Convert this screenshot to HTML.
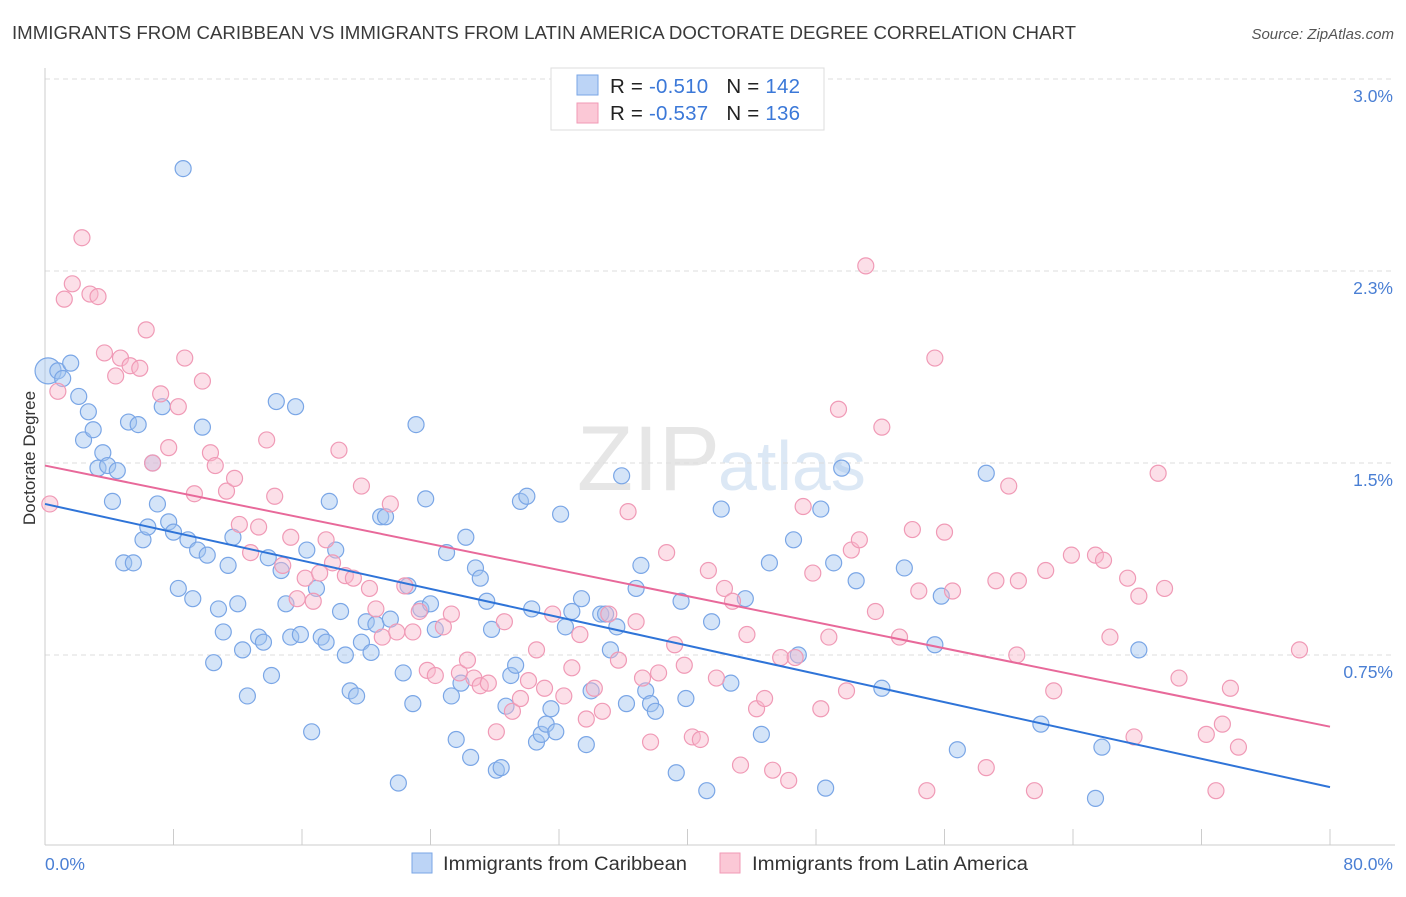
<!DOCTYPE html>
<html><head><meta charset="utf-8">
<style>
body{margin:0;background:#fff;font-family:"Liberation Sans",sans-serif;}
svg text{font-family:"Liberation Sans",sans-serif;}
</style></head>
<body>
<svg id="chart" width="1406" height="892" viewBox="0 0 1406 892">
<text x="12" y="39" font-size="18" fill="#3a3a3a" textLength="1064" lengthAdjust="spacingAndGlyphs">IMMIGRANTS FROM CARIBBEAN VS IMMIGRANTS FROM LATIN AMERICA DOCTORATE DEGREE CORRELATION CHART</text>
<text x="1394" y="39" font-size="15" fill="#555" font-style="italic" text-anchor="end">Source: ZipAtlas.com</text>
<text x="720" y="490" font-size="92" fill="#e6e6e6" text-anchor="end" font-family="Liberation Serif">ZIP</text>
<text x="718" y="490" font-size="70" fill="#dce8f5">atlas</text>
<g id="grid"></g>
<g id="axes"></g>
<g id="pts"></g>
<g id="trends"></g>
<text x="35" y="458" font-size="17" fill="#333" text-anchor="middle" transform="rotate(-90 35 458)">Doctorate Degree</text>
<text x="45" y="870" font-size="17.5" fill="#4a7fd4">0.0%</text>
<text x="1393" y="870" font-size="17.5" fill="#4a7fd4" text-anchor="end">80.0%</text>
<g>
<rect x="551" y="68" width="273" height="62" fill="#fff" stroke="#ddd"/>
<rect x="577" y="75" width="21" height="20" fill="#bcd4f6" stroke="#7aa6e6"/>
<rect x="577" y="103" width="21" height="20" fill="#fbc8d6" stroke="#f09ab6"/>
<text x="610" y="93" font-size="20.5" fill="#222" textLength="190" lengthAdjust="spacing">R = <tspan fill="#3b78d8">-0.510</tspan><tspan dx="18">N = </tspan><tspan fill="#3b78d8">142</tspan></text>
<text x="610" y="120" font-size="20.5" fill="#222" textLength="190" lengthAdjust="spacing">R = <tspan fill="#3b78d8">-0.537</tspan><tspan dx="18">N = </tspan><tspan fill="#3b78d8">136</tspan></text>
</g>
<g>
<rect x="412" y="853" width="20" height="20" fill="#bcd4f6" stroke="#7aa6e6"/>
<text x="443" y="870" font-size="19" fill="#333" textLength="244" lengthAdjust="spacingAndGlyphs">Immigrants from Caribbean</text>
<rect x="720" y="853" width="20" height="20" fill="#fbc8d6" stroke="#f09ab6"/>
<text x="752" y="870" font-size="19" fill="#333" textLength="276" lengthAdjust="spacingAndGlyphs">Immigrants from Latin America</text>
</g>
</svg>
<script>
const yTicks=[0.75,1.5,2.25,3.0];
const yTickLabels=["0.75%","1.5%","2.3%","3.0%"];
const blueX=[0.19,0.8,1.1,1.6,2.1,2.7,2.4,3.0,3.3,3.6,3.9,4.5,4.2,5.2,5.8,4.9,5.5,6.1,6.4,6.7,7.0,7.3,7.7,8.0,8.3,8.6,8.9,9.2,9.5,9.8,10.1,10.5,10.8,11.1,11.4,11.7,12.0,12.3,12.6,13.3,13.6,13.9,14.1,14.4,14.7,15.0,15.3,15.6,15.9,16.3,16.6,16.9,17.2,17.5,17.7,18.1,18.4,18.7,19.0,19.4,19.7,20.0,20.3,20.6,20.9,21.2,21.5,22.0,22.3,22.6,22.9,23.1,23.4,23.7,24.0,24.3,25.0,25.3,25.6,25.9,26.2,26.5,26.8,27.1,27.5,27.8,28.1,28.4,28.7,29.0,29.3,29.6,30.0,30.3,30.6,30.9,31.2,31.5,31.8,32.1,32.4,32.8,33.4,33.7,34.0,34.6,34.9,35.2,35.6,35.9,36.2,36.8,37.1,37.4,37.7,38.0,39.3,39.6,39.9,41.2,41.5,42.1,42.7,43.6,44.6,45.1,46.6,46.9,48.3,48.6,49.1,49.6,50.5,52.1,53.5,55.4,55.8,56.8,58.6,62.0,65.4,65.8,68.1];
const blueY=[1.86,1.86,1.83,1.89,1.76,1.70,1.59,1.63,1.48,1.54,1.49,1.47,1.35,1.66,1.65,1.11,1.11,1.20,1.25,1.50,1.34,1.72,1.27,1.23,1.01,2.65,1.20,0.97,1.16,1.64,1.14,0.72,0.93,0.84,1.10,1.21,0.95,0.77,0.59,0.82,0.80,1.13,0.67,1.74,1.08,0.95,0.82,1.72,0.83,1.16,0.45,1.01,0.82,0.80,1.35,1.16,0.92,0.75,0.61,0.59,0.80,0.88,0.76,0.87,1.29,1.29,0.89,0.25,0.68,1.02,0.56,1.65,0.93,1.36,0.95,0.85,1.15,0.59,0.42,0.64,1.21,0.35,1.09,1.05,0.96,0.85,0.30,0.31,0.55,0.67,0.71,1.35,1.37,0.93,0.41,0.44,0.48,0.54,0.45,1.30,0.86,0.92,0.97,0.40,0.61,0.91,0.91,0.77,0.86,1.45,0.56,1.01,1.10,0.61,0.56,0.53,0.29,0.96,0.58,0.22,0.88,1.32,0.64,0.97,0.44,1.11,1.20,0.75,1.32,0.23,1.11,1.48,1.04,0.62,1.09,0.79,0.98,0.38,1.46,0.48,0.19,0.39,0.77];
const pinkX=[0.3,0.8,1.2,1.7,2.3,2.8,3.3,3.7,4.4,4.7,5.3,5.9,6.3,6.7,7.2,7.7,8.3,8.7,9.3,9.8,10.3,10.6,11.3,11.8,12.1,12.8,13.3,13.8,14.3,14.8,15.3,15.7,16.2,16.7,17.1,17.5,17.9,18.3,18.7,19.2,19.7,20.2,20.6,21.0,21.5,21.9,22.4,22.9,23.3,23.8,24.3,24.8,25.3,25.8,26.3,26.7,27.1,27.6,28.1,28.6,29.1,29.6,30.1,30.6,31.1,31.6,32.3,32.8,33.3,33.7,34.2,34.7,35.1,35.7,36.3,36.8,37.2,37.7,38.2,38.7,39.2,39.8,40.3,40.8,41.3,41.8,42.3,42.8,43.3,43.7,44.3,44.8,45.3,45.8,46.3,46.7,47.2,47.8,48.3,48.8,49.4,49.9,50.2,50.7,51.1,51.7,52.1,53.2,54.0,54.4,54.9,55.4,56.0,56.5,58.6,59.2,60.0,60.6,61.6,62.3,62.8,63.9,65.4,65.9,67.4,67.8,68.1,69.3,69.7,70.6,72.3,72.9,73.3,73.8,74.3,78.1,60.5,66.3];
const pinkY=[1.34,1.78,2.14,2.20,2.38,2.16,2.15,1.93,1.84,1.91,1.88,1.87,2.02,1.50,1.77,1.56,1.72,1.91,1.38,1.82,1.54,1.49,1.39,1.44,1.26,1.15,1.25,1.59,1.37,1.10,1.21,0.97,1.05,0.96,1.07,1.20,1.11,1.55,1.06,1.05,1.41,1.01,0.93,0.82,1.34,0.84,1.02,0.84,0.92,0.69,0.67,0.86,0.91,0.68,0.73,0.66,0.63,0.64,0.45,0.88,0.53,0.58,0.65,0.77,0.62,0.91,0.59,0.70,0.83,0.50,0.62,0.53,0.91,0.73,1.31,0.88,0.66,0.41,0.68,1.15,0.79,0.71,0.43,0.42,1.08,0.66,1.01,0.96,0.32,0.83,0.54,0.58,0.30,0.74,0.26,0.74,1.33,1.07,0.54,0.82,1.71,0.61,1.16,1.20,2.27,0.92,1.64,0.82,1.24,1.00,0.22,1.91,1.23,1.00,0.31,1.04,1.41,1.04,0.22,1.08,0.61,1.14,1.14,1.12,1.05,0.43,0.98,1.46,1.01,0.66,0.44,0.22,0.48,0.62,0.39,0.77,0.75,0.82];
const trendXs=[0,80];
const blueTrendY=[1.34,0.234];
const pinkTrendY=[1.49,0.47];

const NS="http://www.w3.org/2000/svg";
const X0=45,X1=1330,Y0=847,PX_PER_PCT=256;
const sx=v=>X0+(v/80)*(X1-X0);
const sy=v=>Y0-v*PX_PER_PCT;
function mk(tag,attrs,parent){const e=document.createElementNS(NS,tag);for(const k in attrs)e.setAttribute(k,attrs[k]);parent.appendChild(e);return e;}
const grid=document.getElementById('grid'),axes=document.getElementById('axes'),pts=document.getElementById('pts'),tr=document.getElementById('trends');
yTicks.forEach((t,i)=>{
  const l=mk('line',{x1:45,x2:1395,y1:sy(t),y2:sy(t),stroke:'#ddd','stroke-dasharray':'5,4'},grid);
  
  
  const tx=mk('text',{x:1393,y:sy(t)+23,'font-size':17.5,fill:'#4a7fd4','text-anchor':'end'},grid);
  tx.textContent=yTickLabels[i];
  
  
});
const la=mk('line',{x1:45,x2:45,y1:68,y2:845,stroke:'#ccc'},axes);


const ba=mk('line',{x1:45,x2:1395,y1:845,y2:845,stroke:'#ccc'},axes);


for(let v=0;v<=80;v+=8){
  const t=mk('line',{x1:sx(v),x2:sx(v),y1:829,y2:845,stroke:'#ccc'},axes);
  
  
}
blueX.forEach((x,i)=>{
  const c=mk('circle',{cx:sx(x),cy:sy(blueY[i]),r:i===0?13:8,fill:'rgba(160,195,240,0.45)',stroke:'#7aa6e6','stroke-width':1.2},pts);
  
  
});
pinkX.forEach((x,i)=>{
  const c=mk('circle',{cx:sx(x),cy:sy(pinkY[i]),r:8,fill:'rgba(248,185,205,0.45)',stroke:'#f09ab6','stroke-width':1.2},pts);
  
  
});
const bl=mk('line',{x1:sx(trendXs[0]),y1:sy(blueTrendY[0]),x2:sx(trendXs[1]),y2:sy(blueTrendY[1]),stroke:'#2f74d8','stroke-width':2},tr);


const pl=mk('line',{x1:sx(trendXs[0]),y1:sy(pinkTrendY[0]),x2:sx(trendXs[1]),y2:sy(pinkTrendY[1]),stroke:'#e8699a','stroke-width':2},tr);


</script>
</body></html>
